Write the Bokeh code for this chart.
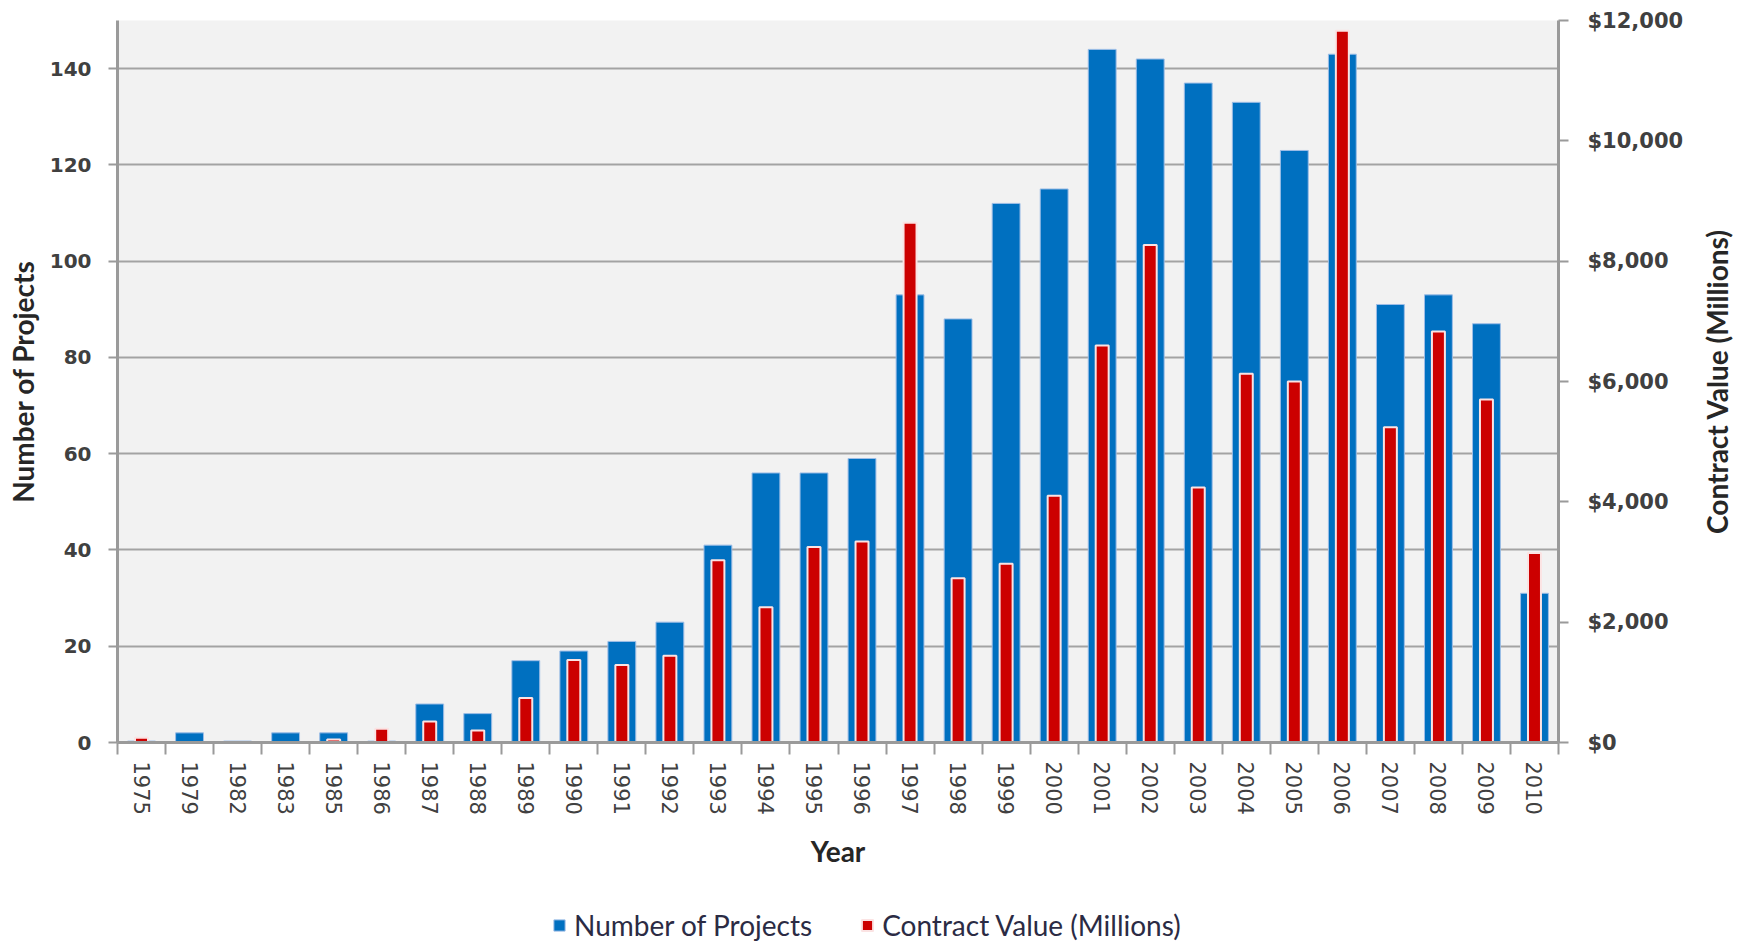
import numpy as np
from bokeh.plotting import figure
from bokeh.layouts import column, row
from bokeh.models import (Range1d, LinearAxis, FixedTicker, NumeralTickFormatter,
                          Legend, LegendItem, ColumnDataSource)
from bokeh.embed import file_html
from bokeh.resources import INLINE

years = ["1975", "1979", "1982", "1983", "1985", "1986", "1987", "1988", "1989", "1990",
         "1991", "1992", "1993", "1994", "1995", "1996", "1997", "1998", "1999", "2000",
         "2001", "2002", "2003", "2004", "2005", "2006", "2007", "2008", "2009", "2010"]
projects = [0.3, 2, 0.3, 2, 2, 0.3, 8, 6, 17, 19, 21, 25, 41, 56, 56, 59, 93, 88, 112, 115,
            144, 142, 137, 133, 123, 143, 91, 93, 87, 31]
contract = [80, 0, 0, 0, 50, 230, 350, 200, 740, 1370, 1290, 1440, 3030, 2250, 3250, 3340,
            8640, 2730, 2970, 4100, 6600, 8270, 4240, 6130, 6000, 11830, 5240, 6830, 5700, 3150]

left_ticks = [0, 20, 40, 60, 80, 100, 120, 140]
right_ticks = [0, 2000, 4000, 6000, 8000, 10000, 12000]

TICK_FONT = "DejaVu Sans"
TITLE_FONT = "Lato"
TXT = "#404040"
AX = "#9a9a9a"
BLUE = "#0070c0"
RED = "#cc0000"
W_MAIN = 1686
W_TITLE = 55
H_MAIN = 878

n = len(years)
idx = list(range(n))
src = ColumnDataSource(dict(x=idx, proj=projects, cv=contract, year=years))

p = figure(width=W_MAIN, height=H_MAIN, output_backend="svg", toolbar_location=None,
           x_range=Range1d(-0.5, n - 0.5), y_range=Range1d(0, 150),
           min_border_left=117, min_border_right=123, min_border_top=20,
           min_border_bottom=136, background_fill_color="#f2f2f2",
           border_fill_color="white", outline_line_color=None)
p.extra_y_ranges = {"cv": Range1d(0, 12000)}

# grid
p.xgrid.grid_line_color = None
p.ygrid.ticker = FixedTicker(ticks=left_ticks[1:])
p.ygrid.grid_line_color = "#a3a3a3"
p.ygrid.grid_line_width = 2

# bars
b = p.vbar(x="x", top="proj", width=0.58, source=src, fill_color=BLUE,
           line_color="#9dbde6", line_width=1)
r = p.vbar(x="x", top="cv", width=0.27, source=src, y_range_name="cv",
           fill_color=RED, line_color="#fbe3e3", line_width=2)

def style_title(ax):
    ax.axis_label_text_font = TITLE_FONT
    ax.axis_label_text_font_size = "28px"
    ax.axis_label_text_font_style = "bold"
    ax.axis_label_text_color = "#262626"

# x axis
xa = p.xaxis[0]
xa.ticker = FixedTicker(ticks=idx, minor_ticks=[i - 0.5 for i in range(n + 1)])
xa.major_label_overrides = {i: y for i, y in zip(idx, years)}
xa.major_label_orientation = "vertical"
xa.major_tick_out = 0
xa.major_tick_in = 0
xa.minor_tick_out = 12
xa.minor_tick_in = 0
xa.minor_tick_line_color = AX
xa.minor_tick_line_width = 2
xa.axis_line_color = AX
xa.axis_line_width = 3
xa.major_label_standoff = 7
xa.major_label_text_font = TICK_FONT
xa.major_label_text_font_size = "21px"
xa.major_label_text_color = TXT
xa.axis_label = "Year"
style_title(xa)
xa.axis_label_standoff = 16

# left axis
ya = p.yaxis[0]
ya.ticker = FixedTicker(ticks=left_ticks)
ya.axis_line_color = AX
ya.axis_line_width = 3
ya.major_tick_line_color = AX
ya.major_tick_line_width = 2
ya.major_tick_out = 9
ya.major_tick_in = 0
ya.minor_tick_line_color = None
ya.major_label_standoff = 17
ya.major_label_text_font = TICK_FONT
ya.major_label_text_font_size = "20px"
ya.major_label_text_font_style = "bold"
ya.major_label_text_color = TXT
ya.axis_label = "Number of Projects"
style_title(ya)
ya.axis_label_standoff = 7

# right axis (ticks and labels)
ra = LinearAxis(y_range_name="cv", ticker=FixedTicker(ticks=right_ticks),
                formatter=NumeralTickFormatter(format="$0,0"))
ra.axis_line_color = AX
ra.axis_line_width = 3
ra.major_tick_line_color = AX
ra.major_tick_line_width = 2
ra.major_tick_out = 10
ra.major_tick_in = 0
ra.minor_tick_line_color = None
ra.major_label_standoff = 19
ra.major_label_text_font = TICK_FONT
ra.major_label_text_font_size = "21px"
ra.major_label_text_font_style = "bold"
ra.major_label_text_color = TXT
p.add_layout(ra, "right")

# right-hand title strip: reads bottom-to-top, centred on the plot frame
tf = figure(width=W_TITLE, height=H_MAIN, output_backend="svg", toolbar_location=None,
            x_axis_location=None, x_range=Range1d(0, 1), y_range=Range1d(0, 12000),
            min_border_left=50, min_border_right=0, min_border_top=20,
            min_border_bottom=136, outline_line_color=None,
            background_fill_color="white", border_fill_color="white")
tf.grid.visible = False
ta = tf.yaxis[0]
ta.ticker = FixedTicker(ticks=[])
ta.axis_line_color = None
ta.major_tick_line_color = None
ta.minor_tick_line_color = None
ta.major_tick_out = 0
ta.major_label_standoff = 0
ta.axis_label = "Contract Value (Millions)"
style_title(ta)
ta.axis_label_standoff = 3

# legend strip below the chart
lf = figure(width=W_MAIN + W_TITLE, height=66, output_backend="svg", toolbar_location=None,
            x_axis_type=None, y_axis_type=None, x_range=Range1d(-0.5, n - 0.5),
            y_range=Range1d(0, 150), min_border=0, min_border_left=117,
            outline_line_color=None, background_fill_color="white",
            border_fill_color="white")
lf.grid.visible = False
lb = lf.vbar(x="x", top="proj", width=0.58, source=src, fill_color=BLUE,
             line_color="#9dbde6", line_width=1, visible=False)
lr = lf.vbar(x="x", top="proj", width=0.27, source=src, fill_color=RED,
             line_color="#fbe3e3", line_width=2, visible=False)
legend = Legend(items=[LegendItem(label="Number of Projects", renderers=[lb]),
                       LegendItem(label="Contract Value (Millions)", renderers=[lr])],
                orientation="horizontal", location=(435, 2),
                background_fill_alpha=0, border_line_color=None,
                inactive_fill_alpha=0,
                label_text_font=TITLE_FONT, label_text_font_size="28px",
                label_text_color="#2b2b44", glyph_width=14, glyph_height=14,
                spacing=48, padding=0, margin=0, label_standoff=8)
lf.add_layout(legend, "center")

layout = column(row(p, tf, spacing=0), lf, spacing=0)
open("out.html", "w").write(file_html(layout, INLINE))
